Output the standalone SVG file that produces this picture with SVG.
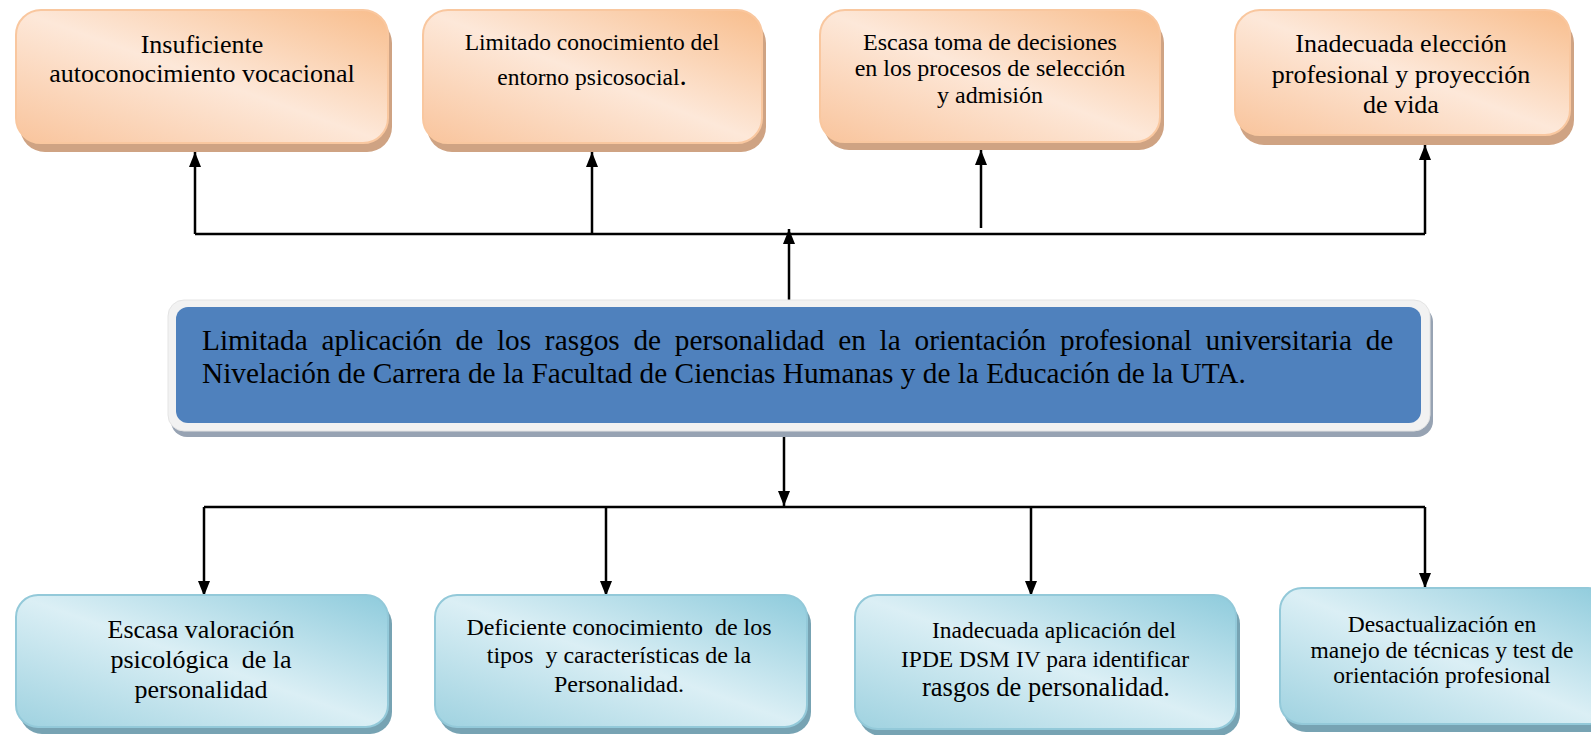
<svg xmlns="http://www.w3.org/2000/svg" width="1591" height="735" viewBox="0 0 1591 735">
<style>
text{font-family:"Liberation Serif","Times New Roman",serif;fill:#000;text-anchor:middle}
.c text{text-anchor:start}
.o{fill:url(#go);stroke:#f9c79f;stroke-width:2}
.os{fill:#cfa383}
.b{fill:url(#gb);stroke:#93c9d9;stroke-width:2}
.bs{fill:#77a3b3}
.ln{fill:none;stroke:#000;stroke-width:2.5}
</style>
<defs>
<linearGradient id="go" x1="1" y1="0" x2="0" y2="1">
<stop offset="0" stop-color="#f8bd8c"/>
<stop offset="0.5" stop-color="#fde8d9"/>
<stop offset="1" stop-color="#f9c49c"/>
</linearGradient>
<linearGradient id="gb" x1="1" y1="0" x2="0" y2="1">
<stop offset="0" stop-color="#8ecbdc"/>
<stop offset="0.5" stop-color="#dbeff5"/>
<stop offset="1" stop-color="#9fd2e0"/>
</linearGradient>
<marker id="ah" viewBox="0 0 15 12" refX="15" refY="6" markerWidth="15" markerHeight="12" markerUnits="userSpaceOnUse" orient="auto">
<path d="M0,0 L15,6 L0,12 z" fill="#000"/>
</marker>
</defs>

<g id="connectors">
<path class="ln" d="M195,234 H1425"/>
<path class="ln" d="M195,234 V152" marker-end="url(#ah)"/>
<path class="ln" d="M592,234 V152" marker-end="url(#ah)"/>
<path class="ln" d="M981,228 V150" marker-end="url(#ah)"/>
<path class="ln" d="M1425,234 V145" marker-end="url(#ah)"/>
<path class="ln" d="M789,305 V229" marker-end="url(#ah)"/>
<path class="ln" d="M784,436 V506" marker-end="url(#ah)"/>
<path class="ln" d="M204,507 H1425"/>
<path class="ln" d="M204,507 V596" marker-end="url(#ah)"/>
<path class="ln" d="M606,507 V596" marker-end="url(#ah)"/>
<path class="ln" d="M1031,507 V596" marker-end="url(#ah)"/>
<path class="ln" d="M1425,507 V588" marker-end="url(#ah)"/>
</g>

<g id="n1">
<rect class="os" x="20" y="18" width="372" height="134" rx="25"/>
<rect class="o" x="16" y="10" width="372" height="133" rx="25"/>
<text font-size="26" x="202" y="53">Insuficiente</text>
<text font-size="26" x="202" y="82">autoconocimiento vocacional</text>
</g>

<g id="n2">
<rect class="os" x="427" y="18" width="339" height="134" rx="25"/>
<rect class="o" x="423" y="10" width="339" height="133" rx="25"/>
<text font-size="23.5" x="592" y="50">Limitado conocimiento del</text>
<text font-size="23.5" x="592" y="85">entorno psicosocial<tspan font-size="29">.</tspan></text>
</g>

<g id="n3">
<rect class="os" x="824" y="18" width="340" height="132" rx="25"/>
<rect class="o" x="820" y="10" width="340" height="132" rx="25"/>
<text font-size="24" x="990" y="50">Escasa toma de decisiones</text>
<text font-size="24" x="990" y="76">en los procesos de selección</text>
<text font-size="24" x="990" y="103">y admisión</text>
</g>

<g id="n4">
<rect class="os" x="1239" y="18" width="335" height="127" rx="25"/>
<rect class="o" x="1235" y="10" width="335" height="125" rx="25"/>
<text font-size="26" x="1401" y="52">Inadecuada elección</text>
<text font-size="26" x="1401" y="83">profesional y proyección</text>
<text font-size="26" x="1401" y="113">de vida</text>
</g>

<g id="center" class="c">
<rect x="171" y="306" width="1262" height="131" rx="16" fill="#97a3b3"/>
<rect x="168" y="300" width="1262" height="131" rx="16" fill="#f2f2f2" stroke="#e4e4e4" stroke-width="1"/>
<rect x="176" y="307" width="1245" height="116" rx="12" fill="#4f81bd"/>
<text font-size="29.3" x="202" y="350" word-spacing="6.4">Limitada aplicación de los rasgos de personalidad en la orientación profesional universitaria de</text>
<text font-size="29.3" x="202" y="383">Nivelación de Carrera de la Facultad de Ciencias Humanas y de la Educación de la UTA.</text>
</g>

<g id="n5">
<rect class="bs" x="20" y="602" width="372" height="132" rx="22"/>
<rect class="b" x="16" y="595" width="372" height="132" rx="22"/>
<text font-size="26" x="201" y="638">Escasa valoración</text>
<text font-size="26" x="201" y="668" xml:space="preserve">psicológica  de la</text>
<text font-size="26" x="201" y="698">personalidad</text>
</g>

<g id="n6">
<rect class="bs" x="439" y="602" width="372" height="132" rx="22"/>
<rect class="b" x="435" y="595" width="372" height="132" rx="22"/>
<text font-size="24" x="619" y="635" xml:space="preserve">Deficiente conocimiento  de los</text>
<text font-size="24" x="619" y="663" xml:space="preserve">tipos  y características de la</text>
<text font-size="24" x="619" y="692">Personalidad.</text>
</g>

<g id="n7">
<rect class="bs" x="859" y="602" width="381" height="134" rx="22"/>
<rect class="b" x="855" y="595" width="381" height="134" rx="22"/>
<text font-size="23.5" x="1054" y="638">Inadecuada aplicación del</text>
<text font-size="23.5" x="1045" y="667">IPDE DSM IV para identificar</text>
<text font-size="26.5" x="1046" y="696">rasgos de personalidad.</text>
</g>

<g id="n8">
<rect class="bs" x="1284" y="595" width="330" height="137" rx="22"/>
<rect class="b" x="1280" y="588" width="330" height="136" rx="22"/>
<text font-size="23.5" x="1442" y="632">Desactualización en</text>
<text font-size="23.5" x="1442" y="658">manejo de técnicas y test de</text>
<text font-size="23.5" x="1442" y="683">orientación profesional</text>
</g>
</svg>
